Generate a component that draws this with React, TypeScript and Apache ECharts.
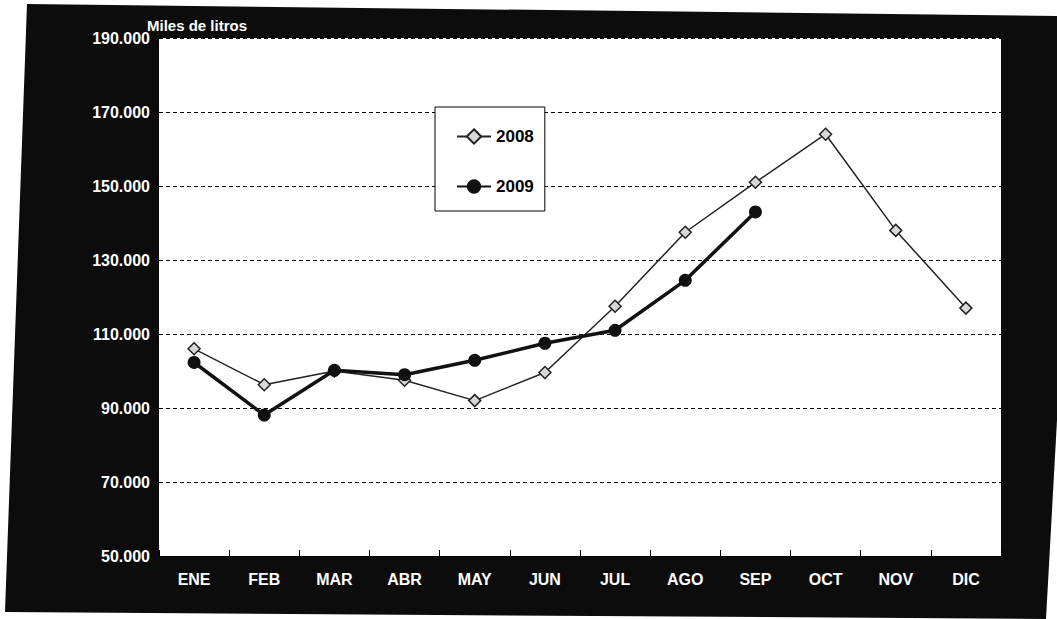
import React, { useEffect, useRef } from "react";
import * as echarts from "echarts";

const months = ["ENE", "FEB", "MAR", "ABR", "MAY", "JUN", "JUL", "AGO", "SEP", "OCT", "NOV", "DIC"];
const values2008 = [106000, 96300, 100000, 97500, 92000, 99600, 117500, 137500, 151000, 164000, 138000, 117000];
const values2009 = [102300, 88100, 100200, 99000, 102900, 107500, 111000, 124500, 143000, null, null, null];
const yTicks = { min: 50000, max: 190000, interval: 20000 };
const axisTitle = "Miles de litros";

const FONT = "'Liberation Sans', Arial, sans-serif";

export default function App() {
  const ref = useRef<HTMLDivElement>(null);
  useEffect(() => {
    if (!ref.current) return;
    const chart = echarts.init(ref.current, null, { renderer: "svg" });
    chart.setOption({
      animation: false,
      backgroundColor: "#ffffff",
      graphic: [
        {
          type: "polygon",
          z: -10,
          shape: { points: [[27, 4], [1057, 16], [1057, 420], [1046, 619], [5, 612]] },
          style: { fill: "#0c0c0c" },
        },
        {
          type: "text",
          left: 147,
          top: 18,
          style: { text: axisTitle, fill: "#ffffff", font: `bold 15px ${FONT}` },
        },
      ],
      grid: {
        left: 159,
        right: 56,
        top: 38,
        bottom: 63,
        show: true,
        backgroundColor: "#ffffff",
        borderWidth: 0,
      },
      legend: {
        data: ["2008", "2009"],
        orient: "vertical",
        left: 435,
        top: 107,
        backgroundColor: "#ffffff",
        borderColor: "#000000",
        borderWidth: 1,
        padding: [21, 11, 16, 21],
        itemGap: 33,
        itemWidth: 34,
        itemHeight: 18,
        textStyle: { color: "#000", fontSize: 17, fontWeight: "bold", fontFamily: FONT },
      },
      xAxis: {
        type: "category",
        data: months,
        boundaryGap: true,
        axisLine: { show: true, lineStyle: { color: "#000", width: 1 } },
        axisTick: { show: true, inside: true, length: 6, lineStyle: { color: "#000" } },
        axisLabel: { color: "#fff", fontSize: 16, fontWeight: "bold", fontFamily: FONT, margin: 15 },
      },
      yAxis: {
        type: "value",
        min: yTicks.min,
        max: yTicks.max,
        interval: yTicks.interval,
        axisLine: { show: false },
        axisTick: { show: false },
        axisLabel: {
          color: "#fff",
          fontSize: 16,
          fontWeight: "bold",
          fontFamily: FONT,
          margin: 9,
          formatter: (v: number) => (v / 1000).toFixed(3),
        },
        splitLine: { show: true, lineStyle: { color: "#000", type: [4, 3], width: 1 } },
      },
      series: [
        {
          name: "2008",
          type: "line",
          data: values2008,
          symbol: "diamond",
          symbolSize: 12,
          lineStyle: { color: "#222", width: 1.5 },
          itemStyle: { color: "#d8d8d8", borderColor: "#222", borderWidth: 1.5 },
          z: 3,
        },
        {
          name: "2009",
          type: "line",
          data: values2009,
          symbol: "circle",
          symbolSize: 13,
          lineStyle: { color: "#111", width: 3.5 },
          itemStyle: { color: "#111" },
          z: 4,
        },
      ],
    });
    return () => chart.dispose();
  }, []);
  return <div ref={ref} style={{ position: "absolute", left: 0, top: 0, width: 1057, height: 619 }} />;
}
